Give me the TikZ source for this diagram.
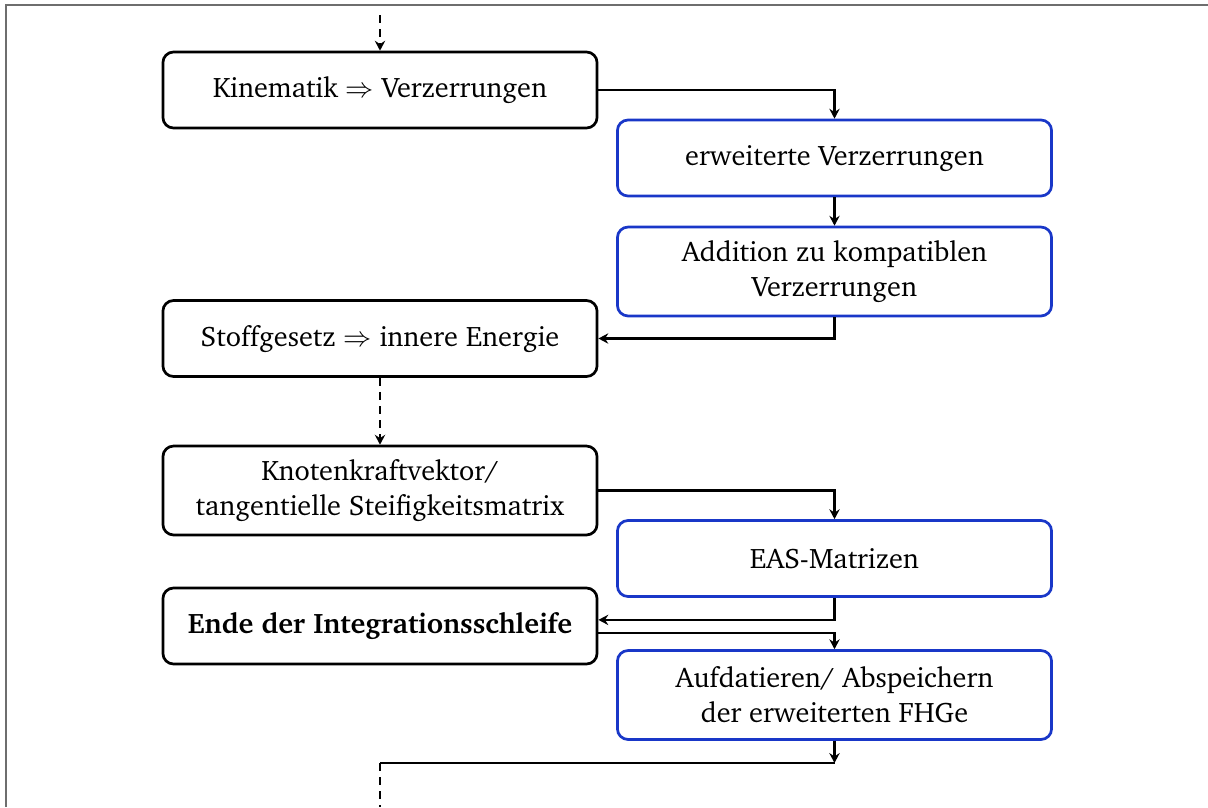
\documentclass[tikz,border=0pt]{standalone}
\usepackage[T1]{fontenc}
\usepackage{charter}
\usetikzlibrary{arrows.meta}
\definecolor{easblue}{RGB}{25,55,200}
\definecolor{framegray}{RGB}{110,110,110}
\tikzset{
  stepbox/.style={draw=black, line width=1.15pt, rounded corners=4.5pt,
    minimum width=184.5pt, minimum height=32.3pt, align=center,
    font=\fontsize{12}{15}\selectfont, inner sep=2pt},
  easbox/.style={stepbox, draw=easblue},
  tallbox/.style={minimum height=37.8pt},
  tip/.style={-{Stealth[length=4.2pt,width=4.4pt,inset=1.4pt]}},
  arr/.style={line width=0.95pt, tip},
  conn/.style={line width=0.95pt},
  dashconn/.style={line width=0.95pt, dash pattern=on 3.4pt off 2.6pt},
}
\begin{document}
\begin{tikzpicture}[x=0.425pt, y=-0.425pt]
  \useasboundingbox (0,0) rectangle (1208,807);
  % frame lines
  \draw[framegray, line width=1pt] (6,807) -- (6,5) -- (1208,5);

  % left column
  \node[stepbox] (kin) at (380,90) {Kinematik $\Rightarrow$ Verzerrungen};
  \node[stepbox] (stoff) at (380,338.5) {Stoffgesetz $\Rightarrow$ innere Energie};
  \node[stepbox, tallbox] (knoten) at (380,490.5) {Knotenkraftvektor/\\tangentielle Steifigkeitsmatrix};
  \node[stepbox] (ende) at (380,626) {\bfseries Ende der Integrationsschleife};

  % right column (EAS steps)
  \node[easbox] (erw) at (834.5,158) {erweiterte Verzerrungen};
  \node[easbox, tallbox] (add) at (834.5,271.5) {Addition zu kompatiblen\\Verzerrungen};
  \node[easbox] (eas) at (834.5,558.5) {EAS-Matrizen};
  \node[easbox, tallbox] (auf) at (834.5,695) {Aufdatieren/ Abspeichern\\der erweiterten FHGe};

  % loose ends
  \coordinate (top) at (380,15);
  \coordinate (junc) at (834.5,763);
  \coordinate (corner) at (380,763);
  \coordinate (bottom) at (380,807);

  % connectors
  \draw[dashconn, tip] (top) -- (kin.north);
  \draw[arr] (kin.east) -| (erw.north);
  \draw[arr] (erw.south) -- (add.north);
  \draw[arr] (add.south) |- (stoff.east);
  \draw[dashconn, tip] (stoff.south) -- (knoten.north);
  \draw[arr] (knoten.east) -| (eas.north);
  \draw[arr] (eas.south) |- ([yshift=2.6pt]ende.east);
  \draw[arr] ([yshift=-2.9pt]ende.east) -| (auf.north);
  \draw[arr] (auf.south) -- (junc);
  \draw[conn] (junc) -- (corner);
  \draw[dashconn] (corner) -- (bottom);
\end{tikzpicture}
\end{document}
